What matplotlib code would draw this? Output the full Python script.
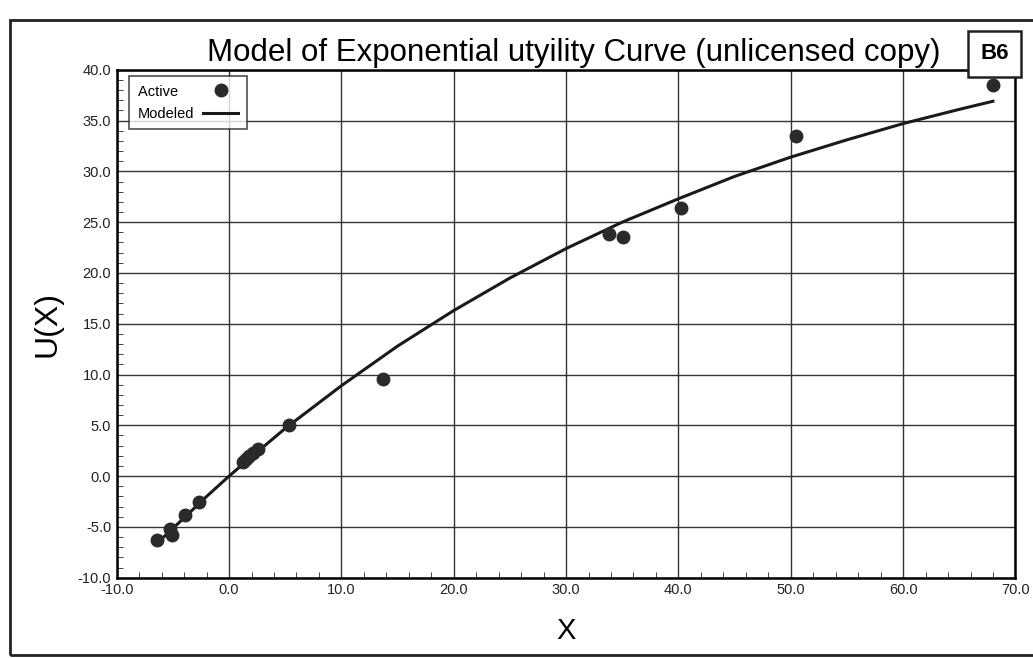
import matplotlib
matplotlib.use("Agg")
from matplotlib import pyplot as plt
from matplotlib.patches import Rectangle
from matplotlib.ticker import MultipleLocator, FormatStrFormatter

# observed points (Active)
active_x = [-6.4, -5.3, -5.1, -3.9, -2.7, 1.2, 1.5, 1.8, 2.1, 2.6, 5.3, 13.7, 33.8, 35.1, 40.2, 50.5, 68.0]
active_y = [-6.3, -5.2, -5.8, -3.8, -2.5, 1.4, 1.7, 2.0, 2.3, 2.7, 5.0, 9.6, 23.8, 23.5, 26.4, 33.5, 38.5]

# modeled curve
model_x = [-6.4, -4, -2, 0, 2, 5, 10, 15, 20, 25, 30, 35, 40, 45, 50, 55, 60, 65, 68]
model_y = [-6.6, -4.1, -2.0, 0.0, 1.9, 4.7, 8.9, 12.8, 16.3, 19.5, 22.4, 25.0, 27.3, 29.5, 31.4, 33.1, 34.7, 36.1, 36.9]

plt.rcParams['font.family'] = ['Liberation Sans', 'DejaVu Sans']

fig = plt.figure(figsize=(10.33, 6.58), dpi=100)
ax = fig.add_axes([0.113, 0.122, 0.870, 0.772])

ax.plot(model_x, model_y, color='#1a1a1a', lw=2.2, label='Modeled', zorder=3)
ax.plot(active_x, active_y, 'o', color='#2a2a2a', ms=9, label='Active', zorder=4)

ax.set_xlim(-10, 70)
ax.set_ylim(-10, 40)
ax.xaxis.set_major_locator(MultipleLocator(10))
ax.xaxis.set_minor_locator(MultipleLocator(2))
ax.yaxis.set_major_locator(MultipleLocator(5))
ax.yaxis.set_minor_locator(MultipleLocator(1))
ax.xaxis.set_major_formatter(FormatStrFormatter('%.1f'))
ax.yaxis.set_major_formatter(FormatStrFormatter('%.1f'))
ax.tick_params(which='both', direction='in', labelsize=10.5, colors='#222222')
ax.tick_params(which='major', length=0, pad=4)
ax.tick_params(which='minor', length=4)
ax.grid(True, which='major', color='#333333', lw=1)
for s in ax.spines.values():
    s.set_linewidth(1.8)

ax.set_xlabel('X', fontsize=21, labelpad=14)
ax.set_ylabel('U(X)', fontsize=23, labelpad=11)
ax.set_title('Model of Exponential utyility Curve (unlicensed copy)', fontsize=22.5, pad=6, x=0.509)

leg = ax.legend(handles=ax.get_lines()[::-1], labels=['Active    ', 'Modeled'],
                loc='upper left', markerfirst=False,
                fontsize=10.5, frameon=True, fancybox=False, edgecolor='#222222',
                handlelength=2.4, handletextpad=0.6, borderpad=0.6, labelspacing=0.55,
                bbox_to_anchor=(0.014, 0.988), borderaxespad=0.0)
leg.get_frame().set_linewidth(1.2)

# B6 box
fig.text(0.963, 0.918, 'B6', fontsize=16, fontweight='bold', ha='center', va='center',
         bbox=dict(boxstyle='square,pad=0.55', fc='white', ec='#222222', lw=1.8))

# outer frame
fig.patches.append(Rectangle((0.01, 0.005), 1.0, 0.965, transform=fig.transFigure,
                             fill=False, ec='#222222', lw=2))

fig.savefig('out.png', dpi=100)
